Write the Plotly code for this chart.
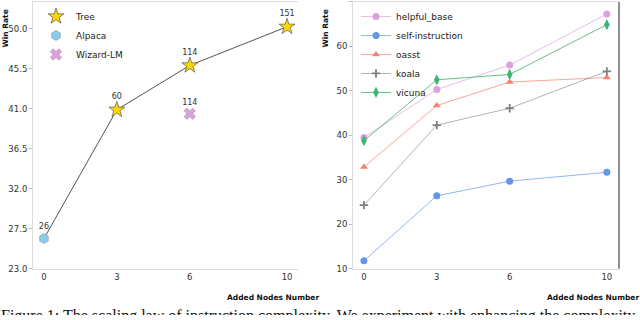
import plotly.graph_objects as go

# ---------------- data ----------------
x_ticks = [0, 3, 6, 10]

tree_x = [3, 6, 10]
tree_y = [40.9, 45.9, 50.25]
tree_labels = ["60", "114", "151"]

alpaca_x = [0]
alpaca_y = [26.4]
alpaca_labels = ["26"]

wizard_x = [6]
wizard_y = [40.45]
wizard_labels = ["114"]

left_yticks = [23.0, 27.5, 32.0, 36.5, 41.0, 45.5, 50.0]

right_x = [0, 3, 6, 10]
helpful_base = [39.5, 50.3, 55.8, 67.3]
self_instruction = [11.8, 26.4, 29.7, 31.7]
oasst = [32.9, 46.7, 52.0, 53.0]
koala = [24.3, 42.3, 46.1, 54.4]
vicuna = [38.8, 52.5, 53.7, 64.9]
right_yticks = [10, 20, 30, 40, 50, 60, 70]

caption = "Figure 1: The scaling law of instruction complexity. We experiment with enhancing the complexity"

# ---------------- figure ----------------
W, H = 640, 320
FONT = "DejaVu Sans"
fig = go.Figure()

# trend line Alpaca -> Tree
fig.add_trace(go.Scatter(
    x=alpaca_x + tree_x, y=alpaca_y + tree_y, mode="lines",
    line=dict(color="#555555", width=1), showlegend=False, hoverinfo="skip",
    xaxis="x", yaxis="y"))

fig.add_trace(go.Scatter(
    x=tree_x, y=tree_y, mode="markers+text", name="Tree",
    text=tree_labels, textposition="top center",
    textfont=dict(size=8, color="#333333", family=FONT),
    marker=dict(symbol="star", size=12, color="#FFD700",
                line=dict(color="#555555", width=0.7)),
    xaxis="x", yaxis="y"))
fig.add_trace(go.Scatter(
    x=alpaca_x, y=alpaca_y, mode="markers+text", name="Alpaca",
    text=alpaca_labels, textposition="top center",
    textfont=dict(size=8, color="#333333", family=FONT),
    marker=dict(symbol="hexagon", size=10, color="#87CEEB",
                line=dict(color="#888888", width=0.5)),
    xaxis="x", yaxis="y"))
fig.add_trace(go.Scatter(
    x=wizard_x, y=wizard_y, mode="markers+text", name="Wizard-LM",
    text=wizard_labels, textposition="top center",
    textfont=dict(size=8, color="#333333", family=FONT),
    marker=dict(symbol="x", size=10, color="#DDA0DD",
                line=dict(color="#888888", width=0.5)),
    xaxis="x", yaxis="y"))

series = [
    ("helpful_base", helpful_base, "#DDA0DD", "rgba(221,160,221,0.7)", "circle", 7),
    ("self-instruction", self_instruction, "#6495ED", "rgba(100,149,237,0.7)", "circle", 7),
    ("oasst", oasst, "#FA8072", "rgba(250,128,114,0.7)", "triangle-up", 7),
    ("koala", koala, "#808080", "rgba(128,128,128,0.6)", "cross-thin", 6),
    ("vicuna", vicuna, "#3CB371", "rgba(60,179,113,0.8)", "diamond-tall", 8),
]
for name, ys, mc, lc, sym, sz in series:
    mk = dict(symbol=sym, size=sz, color=mc)
    if sym == "cross-thin":
        mk["line"] = dict(color=mc, width=1.8)
    fig.add_trace(go.Scatter(
        x=right_x, y=ys, mode="lines+markers", name=name,
        line=dict(color=lc, width=1), marker=mk,
        xaxis="x2", yaxis="y2", legend="legend2"))

# caption on a full-page overlay axis (pixel units), clipped by the page edge as in the source
fig.add_trace(go.Scatter(
    x=[1], y=[322], mode="text", text=[caption], textposition="middle right",
    textfont=dict(size=16, color="#111111", family="Liberation Serif"),
    showlegend=False, hoverinfo="skip", cliponaxis=True,
    xaxis="x3", yaxis="y3"))

ydom = [1 - 273 / H, 1 - 2 / H]
axis_common = dict(showgrid=False, zeroline=False, showline=True,
                   linecolor="#dddddd", linewidth=1,
                   tickfont=dict(size=8.5, color="#333333", family=FONT))

fig.update_layout(
    width=W, height=H, margin=dict(l=0, r=0, t=0, b=0),
    paper_bgcolor="white", plot_bgcolor="rgba(0,0,0,0)",
    font=dict(family=FONT),
    xaxis=dict(domain=[33 / W, 298 / W], range=[-0.45, 10.45],
               tickvals=x_ticks, mirror=True, ticks="", **axis_common),
    yaxis=dict(domain=ydom, range=[23, 53.04], tickvals=left_yticks,
               ticktext=[f"{v:.1f}" for v in left_yticks],
               ticks="outside", ticklen=3, tickcolor="#bbbbbb", **axis_common),
    xaxis2=dict(domain=[353 / W, 619 / W], range=[-0.45, 10.5],
                tickvals=x_ticks, mirror=True, ticks="", anchor="y2", **axis_common),
    yaxis2=dict(domain=ydom, range=[10, 70], tickvals=right_yticks,
                ticks="outside", ticklen=3, tickcolor="#bbbbbb", anchor="x2", **axis_common),
    xaxis3=dict(domain=[0, 1], range=[0, W], visible=False, anchor="y3", fixedrange=True),
    yaxis3=dict(domain=[0, 1], range=[H, 0], visible=False, anchor="x3", fixedrange=True),
    legend=dict(x=36 / W, y=1 - 2 / H, xanchor="left", yanchor="top",
                bgcolor="rgba(0,0,0,0)", font=dict(size=9, color="#222222", family=FONT)),
    legend2=dict(x=356 / W, y=1 - 2 / H, xanchor="left", yanchor="top",
                 bgcolor="rgba(0,0,0,0)", font=dict(size=9, color="#222222", family=FONT)),
)

# right spine of right panel (dark)
fig.add_shape(type="line", xref="paper", yref="paper",
              x0=619 / W, x1=619 / W, y0=ydom[0], y1=ydom[1],
              line=dict(color="#444444", width=1.2))

# axis titles
for xp in (6, 326):
    fig.add_annotation(text="<b>Win Rate</b>", xref="paper", yref="paper",
                       x=xp / W, y=1 - 29 / H, textangle=-90, showarrow=False,
                       xanchor="center", yanchor="middle",
                       font=dict(size=7.5, color="#111111", family=FONT))
for xr in (321, 641):
    fig.add_annotation(text="<b>Added Nodes Number</b>", xref="paper", yref="paper",
                       x=xr / W, y=1 - 302 / H, showarrow=False,
                       xanchor="right", yanchor="middle",
                       font=dict(size=7.5, color="#111111", family=FONT))

page_fix = (
    "document.documentElement.style.margin='0';"
    "document.body.style.margin='0';"
    "document.documentElement.style.overflow='hidden';document.body.style.overflow='hidden';"
)
fig.write_html("out.html", config={"displayModeBar": False}, post_script=page_fix)
